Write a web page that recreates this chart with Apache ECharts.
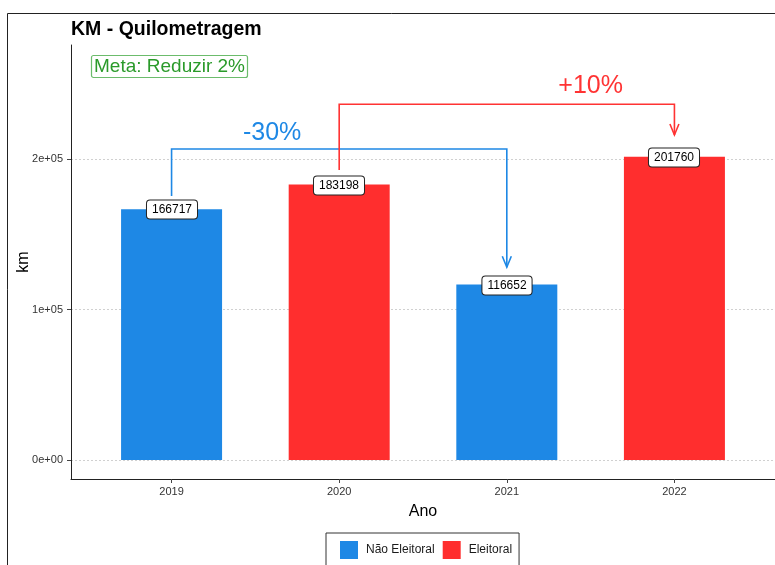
<!DOCTYPE html>
<html><head><meta charset="utf-8">
<script src="https://cdn.jsdelivr.net/npm/echarts@6/dist/echarts.min.js"></script>
<style>html,body{margin:0;padding:0;background:#fff}#c{width:775px;height:565px}</style>
</head><body><div id="c"></div>
<script>
const FONT = 'Liberation Sans, Arial, sans-serif';
const years = [2019, 2020, 2021, 2022];
const kmValues = [166717, 183198, 116652, 201760];
const groups = ['Não Eleitoral', 'Eleitoral', 'Não Eleitoral', 'Eleitoral'];
const seriesNames = ['Não Eleitoral', 'Eleitoral'];
const seriesColors = ['#1E88E5', '#FF2E2E'];
const yTicks = [0, 100000, 200000];
const yTickLabels = ['0e+00', '1e+05', '2e+05'];

// comparison arrows
const arrowFrom = [2019, 2020];
const arrowTo = [2021, 2022];
const arrowStartY = [175600, 192900];
const arrowLevelY = [206850, 236600];
const arrowEndY = [128200, 216200];
const arrowText = ['-30%', '+10%'];
const arrowTextX = [2019.6, 2021.5];
const arrowTextY = [217500, 248700];
const arrowColors = ['#1E88E5', '#FF3333'];

const chart = echarts.init(document.getElementById('c'), null, {renderer: 'canvas'});

const barSeries = seriesNames.map((name, k) => ({
  name: name,
  type: 'bar',
  barWidth: 101,
  barGap: '-100%',
  itemStyle: {color: seriesColors[k]},
  silent: true,
  data: years.map((y, i) => groups[i] === name ? [y, kmValues[i]] : null).filter(d => d)
}));

const labelSeries = {
  name: 'labels',
  type: 'custom',
  silent: true,
  z: 10,
  encode: {x: 0, y: 1},
  data: years.map((y, i) => [y, kmValues[i]]),
  renderItem: function (params, api) {
    const p = api.coord([api.value(0), api.value(1)]);
    return {
      type: 'text', x: Math.round(p[0]), y: Math.round(p[1]) + 0.5,
      style: {
        text: String(api.value(1)), fontSize: 12, fontFamily: FONT, fill: '#000',
        align: 'center', verticalAlign: 'middle',
        backgroundColor: '#fff', borderColor: '#222', borderWidth: 1, borderRadius: 3,
        padding: [3, 5, 2, 5], lineHeight: 13
      }
    };
  }
};

const arrowSeries = {
  name: 'arrows',
  type: 'custom',
  silent: true,
  z: 5,
  encode: {x: [0, 1, 5], y: [2, 3, 4, 6]},
  data: arrowFrom.map((f, i) => [f, arrowTo[i], arrowStartY[i], arrowLevelY[i], arrowEndY[i], arrowTextX[i], arrowTextY[i]]),
  renderItem: function (params, api) {
    const i = params.dataIndex;
    const c = arrowColors[i];
    const p1 = api.coord([api.value(0), api.value(2)]);
    const p2 = api.coord([api.value(0), api.value(3)]);
    const p3 = api.coord([api.value(1), api.value(3)]);
    const p4 = api.coord([api.value(1), api.value(4)]);
    const t = api.coord([api.value(5), api.value(6)]);
    return {
      type: 'group',
      children: [
        {type: 'polyline', shape: {points: [p1, p2, p3, p4]}, style: {stroke: c, lineWidth: 1.6, fill: 'none'}},
        {type: 'polyline', shape: {points: [[p4[0] - 4.5, p4[1] - 11], p4, [p4[0] + 4.5, p4[1] - 11]]}, style: {stroke: c, lineWidth: 1.6, fill: 'none'}},
        {type: 'text', x: t[0], y: t[1], style: {text: arrowText[i], fill: c, fontSize: 25, fontFamily: FONT, align: 'center', verticalAlign: 'middle'}}
      ]
    };
  }
};

chart.setOption({
  animation: false,
  backgroundColor: '#fff',
  textStyle: {fontFamily: FONT},
  title: [
    {text: 'KM - Quilometragem', left: 71, top: 20, padding: 0,
     textStyle: {fontSize: 19.5, fontWeight: 'bold', color: '#000', fontFamily: FONT}},
    {text: 'Meta: Reduzir 2%', left: 91, top: 55, padding: [2, 3, 2, 3],
     borderColor: '#6cbc6c', borderWidth: 1.2, borderRadius: 2,
     textStyle: {fontSize: 19, fontWeight: 'normal', color: '#2a9a2a', fontFamily: FONT}}
  ],
  legend: {
    data: seriesNames, left: 326, top: 533, orient: 'horizontal',
    icon: 'rect', itemWidth: 18, itemHeight: 18, itemGap: 8,
    borderColor: '#333', borderWidth: 1, padding: [8, 7, 8, 14],
    textStyle: {fontSize: 12, color: '#1a1a1a', fontFamily: FONT, padding: [0, 0, 0, 3]}
  },
  grid: {left: 71, top: 45, right: 0, bottom: 86, containLabel: false, outerBoundsMode: 'none'},
  xAxis: {
    type: 'value', min: 2018.4, max: 2022.6,
    name: 'Ano', nameLocation: 'middle', nameGap: 25, nameMoveOverlap: false,
    nameTextStyle: {fontSize: 16, color: '#000', fontFamily: FONT},
    axisLine: {show: true, onZero: false, lineStyle: {color: '#222', width: 1}},
    axisTick: {show: true, customValues: years, length: 4, lineStyle: {color: '#444'}},
    axisLabel: {customValues: years, formatter: v => String(Math.round(v)), fontSize: 11, color: '#333', margin: 7, fontFamily: FONT},
    splitLine: {show: false}
  },
  yAxis: {
    type: 'value', min: -12637, max: 276020,
    name: 'km', nameLocation: 'middle', nameGap: 39, nameMoveOverlap: false,
    nameTextStyle: {fontSize: 16, color: '#000', fontFamily: FONT},
    axisLine: {show: true, onZero: false, lineStyle: {color: '#222', width: 1}},
    axisTick: {show: true, inside: false, customValues: yTicks, length: 4, lineStyle: {color: '#444'}},
    axisLabel: {customValues: yTicks, formatter: v => yTickLabels[yTicks.indexOf(v)] || '', fontSize: 11, color: '#333', margin: 8, fontFamily: FONT},
    splitLine: {show: true, lineStyle: {color: '#d0d0d0', type: [2, 2], width: 1}}
  },
  graphic: [
    {type: 'rect', z: -1, silent: true, shape: {x: 7.5, y: 13.5, width: 900, height: 900}, style: {fill: 'none', stroke: '#222', lineWidth: 1}}
  ],
  series: [...barSeries, arrowSeries, labelSeries]
});
</script></body></html>
